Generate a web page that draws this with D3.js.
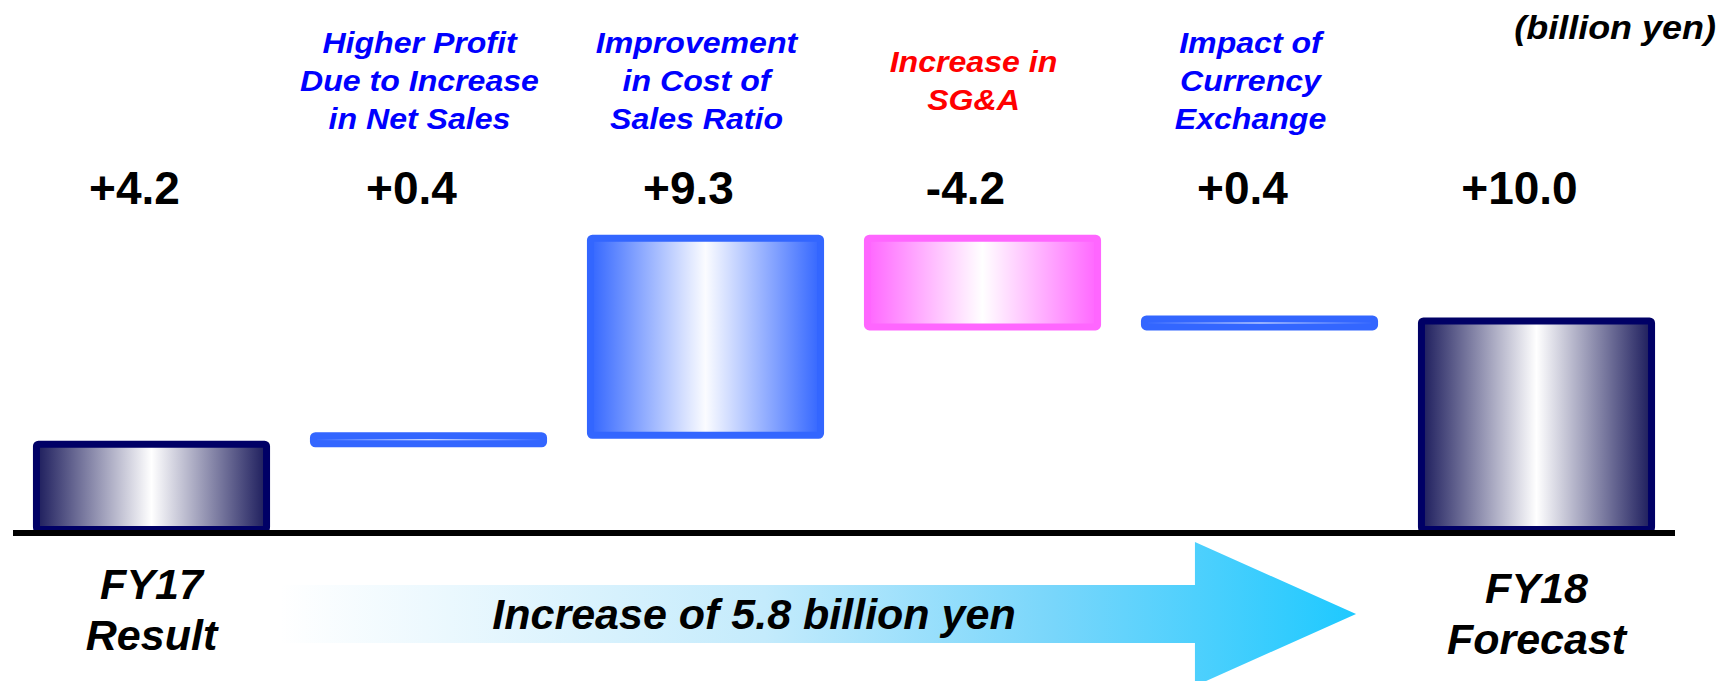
<!DOCTYPE html>
<html>
<head>
<meta charset="utf-8">
<script src="https://cdn.jsdelivr.net/npm/d3@7/dist/d3.min.js"></script>
<style>
  html, body { margin: 0; padding: 0; background: #ffffff; }
  svg { display: block; }
</style>
</head>
<body>
<div id="chart"></div>
<script>
// ---- Data ----
const categories = ["FY17 Result", "Higher Profit Due to Increase in Net Sales", "Improvement in Cost of Sales Ratio", "Increase in SG&A", "Impact of Currency Exchange", "FY18 Forecast"];
const values = [4.2, 0.4, 9.3, -4.2, 0.4, 10.0];
const kinds = ["total", "up", "up", "down", "up", "total"];
const topLabels = [
  [],
  ["Higher Profit", "Due to Increase", "in Net Sales"],
  ["Improvement", "in Cost of", "Sales Ratio"],
  ["Increase in", "SG&A"],
  ["Impact of", "Currency", "Exchange"],
  []
];
const bottomLabels = [["FY17", "Result"], [], [], [], [], ["FY18", "Forecast"]];
const unitLabel = "(billion yen)";
const arrowLabel = "Increase of 5.8 billion yen";

// ---- Layout ----
const W = 1724, H = 681;
const svg = d3.select("#chart").append("svg").attr("width", W).attr("height", H);
svg.append("rect").attr("width", W).attr("height", H).attr("fill", "#ffffff");

const x = d3.scaleBand().domain(categories).range([13, 1675]).paddingInner(0.144).paddingOuter(0.072);
const y = d3.scaleLinear().domain([0, 20]).range([530, 105]);

// waterfall ranges
let run = 0;
const bars = categories.map((c, i) => {
  let lo, hi;
  if (kinds[i] === "total") { lo = 0; hi = values[i]; run = values[i]; }
  else { const s = run; run = run + values[i]; lo = Math.min(s, run); hi = Math.max(s, run); }
  return { c, i, lo, hi, kind: kinds[i], v: values[i] };
});

// ---- Gradients ----
const defs = svg.append("defs");
function hGrad(id, edge, mid) {
  const g = defs.append("linearGradient").attr("id", id).attr("x1", "0%").attr("x2", "100%").attr("y1", "0%").attr("y2", "0%");
  g.append("stop").attr("offset", "0%").attr("stop-color", edge);
  g.append("stop").attr("offset", "50%").attr("stop-color", mid);
  g.append("stop").attr("offset", "100%").attr("stop-color", edge);
}
hGrad("gTotal", "#1c1c5c", "#ffffff");
hGrad("gUp", "#3366ff", "#fbfcff");
hGrad("gDown", "#ff66ff", "#ffffff");
const styles = {
  total: { fill: "url(#gTotal)", stroke: "#000066" },
  up: { fill: "url(#gUp)", stroke: "#3366ff" },
  down: { fill: "url(#gDown)", stroke: "#ff66ff" }
};

// ---- Arrow ----
const ax0 = x(categories[1]) - 30;
const axHead = x(categories[4]) + 54;
const axTip = x(categories[4]) + x.bandwidth() - 22;
const ayMid = 614, bodyHalf = 29, headHalf = 72;
const ag = defs.append("linearGradient").attr("id", "gArrow").attr("gradientUnits", "userSpaceOnUse")
  .attr("x1", ax0).attr("x2", axTip).attr("y1", 0).attr("y2", 0);
ag.append("stop").attr("offset", "0%").attr("stop-color", "#ffffff");
ag.append("stop").attr("offset", "45%").attr("stop-color", "#c4ebfc");
ag.append("stop").attr("offset", "72%").attr("stop-color", "#78d6fb");
ag.append("stop").attr("offset", "100%").attr("stop-color", "#1ec9ff");
const ap = d3.path();
ap.moveTo(ax0, ayMid - bodyHalf);
ap.lineTo(axHead, ayMid - bodyHalf);
ap.lineTo(axHead, ayMid - headHalf);
ap.lineTo(axTip, ayMid);
ap.lineTo(axHead, ayMid + headHalf);
ap.lineTo(axHead, ayMid + bodyHalf);
ap.lineTo(ax0, ayMid + bodyHalf);
ap.closePath();
svg.append("path").attr("d", ap.toString()).attr("fill", "url(#gArrow)");

const fontFam = "'Liberation Sans', Arial, Helvetica, sans-serif";
svg.append("text")
  .attr("x", 754).attr("y", 629)
  .attr("text-anchor", "middle")
  .attr("font-family", fontFam).attr("font-weight", "bold").attr("font-style", "italic")
  .attr("font-size", 43).attr("fill", "#000000")
  .text(arrowLabel);

// ---- Bars ----
const sw = 7;          // border width
const floatPad = 6.5;  // extra depth below floating bars
const bw = x.bandwidth();
svg.append("g").selectAll("rect").data(bars).join("rect")
  .attr("x", d => x(d.c) + sw / 2)
  .attr("width", bw - sw)
  .attr("y", d => y(d.hi) + sw / 2)
  .attr("height", d => {
    const bottom = d.kind === "total" ? y(0) + 3 : y(d.lo) + floatPad;
    return Math.max(1, bottom - y(d.hi) - sw);
  })
  .attr("rx", 2).attr("ry", 2)
  .attr("fill", d => styles[d.kind].fill)
  .attr("stroke", d => styles[d.kind].stroke)
  .attr("stroke-width", sw)
  .attr("stroke-linejoin", "round");

// baseline
svg.append("line")
  .attr("x1", x.range()[0]).attr("x2", x.range()[1])
  .attr("y1", y(0) + 3).attr("y2", y(0) + 3)
  .attr("stroke", "#000000").attr("stroke-width", 6);

// ---- Value labels ----
const fmt = d3.format("+.1f");
svg.append("g").selectAll("text").data(bars).join("text")
  .attr("x", d => x(d.c) + bw / 2 - 17)
  .attr("y", 204)
  .attr("text-anchor", "middle")
  .attr("font-family", fontFam).attr("font-weight", "bold")
  .attr("font-size", 46).attr("fill", "#000000")
  .text(d => fmt(d.v).replace("\u2212", "-"));

// ---- Top category labels ----
const lineGap = 38, labelCenter = 91;
bars.forEach(d => {
  const lines = topLabels[d.i];
  const col = d.kind === "down" ? "#ff0000" : "#0000ff";
  lines.forEach((t, k) => {
    const by = labelCenter + (k - (lines.length - 1) / 2) * lineGap;
    svg.append("text")
      .attr("transform", `translate(${x(d.c) + bw / 2 - 9},${by}) scale(1.07,1)`)
      .attr("text-anchor", "middle")
      .attr("font-family", fontFam).attr("font-weight", "bold").attr("font-style", "italic")
      .attr("font-size", 30).attr("fill", col)
      .text(t);
  });
});

// ---- Bottom labels ----
bars.forEach(d => {
  bottomLabels[d.i].forEach((t, k) => {
    svg.append("text")
      .attr("x", x(d.c) + bw / 2)
      .attr("y", 599 + d.i * 0.8 + k * 51)
      .attr("text-anchor", "middle")
      .attr("font-family", fontFam).attr("font-weight", "bold").attr("font-style", "italic")
      .attr("font-size", 43).attr("fill", "#000000")
      .text(t);
  });
});

// ---- Unit label ----
svg.append("text")
  .attr("transform", "translate(1716,39) scale(1.09,1)")
  .attr("text-anchor", "end")
  .attr("font-family", fontFam).attr("font-weight", "bold").attr("font-style", "italic")
  .attr("font-size", 33).attr("fill", "#000000")
  .text(unitLabel);
</script>
</body>
</html>
